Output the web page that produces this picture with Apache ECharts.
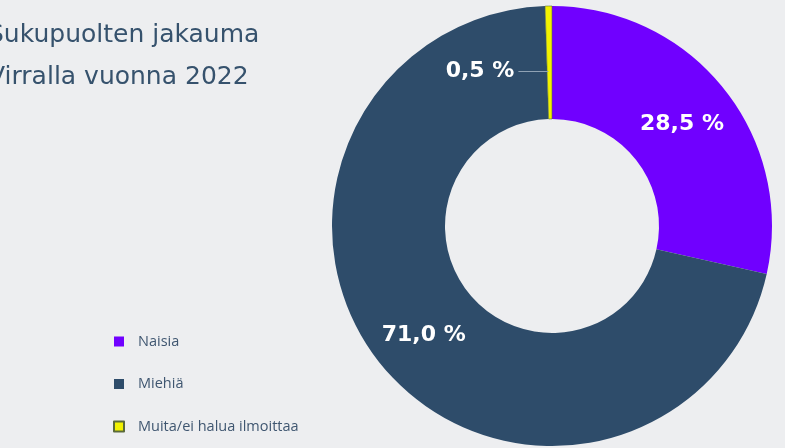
<!DOCTYPE html>
<html>
<head>
<meta charset="utf-8">
<script src="https://cdn.jsdelivr.net/npm/echarts@6/dist/echarts.min.js"></script>
<style>
  html, body { margin: 0; padding: 0; background: #edeef0; }
  #chart { width: 785px; height: 448px; }
</style>
</head>
<body>
<div id="chart"></div>
<script>
const titleLines = ['Sukupuolten jakauma', 'Virralla vuonna 2022'];
const categories = ['Naisia', 'Miehiä', 'Muita/ei halua ilmoittaa'];
const values = [28.5, 71.0, 0.5];
const colors = ['#7000ff', '#2e4c6a', '#f2f200'];

function fmt(v) { return v.toFixed(1).replace('.', ','); }

const chart = echarts.init(document.getElementById('chart'), null, { renderer: 'canvas' });

const data = categories.map((name, i) => {
  const item = { name: name, value: values[i], itemStyle: { color: colors[i] } };
  if (i === 2) {
    item.itemStyle.borderColor = '#5a6a3a';
    item.itemStyle.borderWidth = 0.6;
  }
  return item;
});

chart.setOption({
  backgroundColor: '#edeef0',
  animation: false,
  title: {
    text: titleLines.join('\n'),
    left: -12,
    top: 14,
    padding: 0,
    textStyle: {
      fontFamily: 'DejaVu Sans',
      fontSize: 25,
      fontWeight: 'normal',
      lineHeight: 42,
      color: '#36526d'
    }
  },
  legend: {
    orient: 'vertical',
    left: 113,
    top: 334,
    padding: 0,
    itemWidth: 10,
    itemHeight: 10,
    itemGap: 27.5,
    icon: 'rect',
    data: categories,
    textStyle: { fontFamily: 'Open Sans', fontSize: 14.5, color: '#3f5670', padding: [0, 0, 0, 9] }
  },
  series: [{
    type: 'pie',
    center: [552, 226],
    radius: [107, 220],
    startAngle: 90,
    clockwise: true,
    avoidLabelOverlap: false,
    label: {
      show: true,
      position: 'inside',
      formatter: p => p.dataIndex === 2 ? '{t|' + fmt(p.value) + ' %}{g|}{l|}' : fmt(p.value) + ' %',
      color: '#ffffff',
      fontFamily: 'DejaVu Sans',
      fontWeight: 700,
      fontSize: 22,
      rich: {
        t: { color: '#ffffff', fontFamily: 'DejaVu Sans', fontWeight: 700, fontSize: 22 },
        g: { width: 4, height: 1 },
        l: { width: 30, height: 1, backgroundColor: '#8fa2b4', verticalAlign: 'middle' }
      }
    },
    labelLine: { show: false },
    labelLayout: function (params) {
      const cx = params.labelRect.x + params.labelRect.width / 2;
      const cy = params.labelRect.y + params.labelRect.height / 2;
      if (params.dataIndex === 2) {
        return { x: cx - 1, y: cy + 12, align: 'right', verticalAlign: 'middle' };
      }
      if (params.dataIndex === 1) {
        return { x: cx, y: cy + 3, align: 'center', verticalAlign: 'middle' };
      }
      return { x: cx, y: cy + 2, align: 'center', verticalAlign: 'middle' };
    },
    emphasis: { disabled: true },
    data: data
  }]
});
</script>
</body>
</html>
